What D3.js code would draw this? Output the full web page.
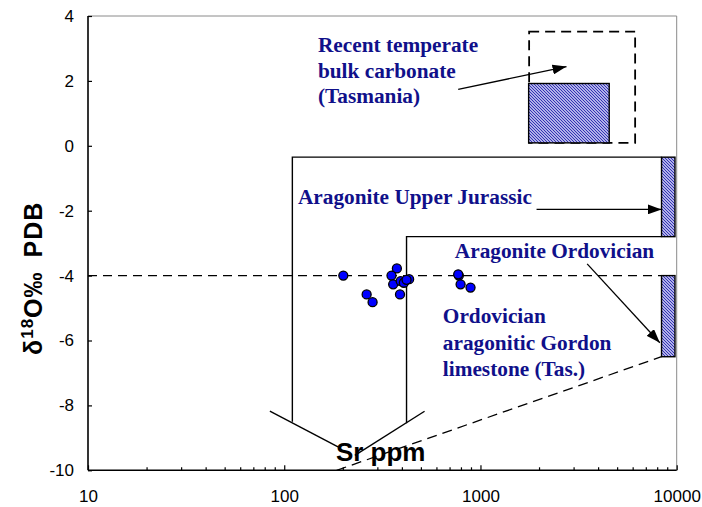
<!DOCTYPE html>
<html><head><meta charset="utf-8">
<script src="https://cdn.jsdelivr.net/npm/d3@7"></script>
<style>
html,body{margin:0;padding:0;background:#fff;}
svg{display:block;}
</style></head>
<body>
<svg id="chart" width="702" height="507"></svg>
<script>
// ---------- data ----------
const xTickValues = [10, 100, 1000, 10000];
const xTickLabels = ["10", "100", "1000", "10000"];
const yTickValues = [-10, -8, -6, -4, -2, 0, 2, 4];
const yTickLabels = ["-10", "-8", "-6", "-4", "-2", "0", "2", "4"];

// Ordovician Gordon limestone samples (Sr ppm, d18O)
const srPpm = [200, 375, 352, 359, 392, 407, 433, 420, 389, 263, 282, 776, 770, 792, 890];
const d18O  = [-4.0, -3.78, -4.0, -4.27, -4.17, -4.22, -4.11, -4.13, -4.58, -4.58, -4.82, -4.0, -3.96, -4.27, -4.37];

// field boxes: [srMin, srMax, d18OMin, d18OMax]
const tasmaniaBar   = [1760, 4530, 0.09, 1.92];
const tasmaniaField = [1770, 6140, 0.09, 3.52];
const jurassicBar   = [8370, 9800, -2.8, -0.35];
const ordovicianBar = [8370, 9800, -6.5, -4.0];

// outline polylines (Sr ppm, d18O)
const outerOutline = [[110, -8.5], [110, -0.35], [8370, -0.35]];
const innerOutline = [[420, -8.55], [420, -2.8], [8370, -2.8]];
const funnelLeft   = [[84.5, -8.18], [188, -9.28]];
const funnelRight  = [[519, -8.18], [229, -9.54]];
const trendDashed  = [[185, -10], [8370, -6.5]];
const levelDashed  = [[10, -4], [8370, -4]];

// arrows: [from, to]
const arrowTasmania   = [[770, 1.74], [2745, 2.44]];
const arrowJurassic   = [[1931, -1.96], [8370, -1.96]];
const arrowOrdovician = [[3497, -3.64], [8204, -6.07]];

// labels: text lines with anchor (Sr ppm, d18O of first baseline)
const labelTasmania   = {lines: ["Recent temperate", "bulk carbonate", "(Tasmania)"], at: [148.5, 2.89]};
const labelJurassic   = {lines: ["Aragonite Upper Jurassic"], at: [117.5, -1.80]};
const labelOrdovician = {lines: ["Aragonite Ordovician"], at: [740, -3.47]};
const labelGordon     = {lines: ["Ordovician", "aragonitic Gordon", "limestone (Tas.)"], at: [643, -5.47]};
const labelSr = {text: "Sr ppm", at: [183.4, -9.71]};

// ---------- chart ----------
const svg = d3.select("#chart");
const M = {left: 88, right: 676.7, top: 16, bottom: 470.3};
const x = d3.scaleLog().domain([10, 10000]).range([M.left, M.right]);
const y = d3.scaleLinear().domain([-10, 4]).range([M.bottom, M.top]);
const navy = "#10108a";

const defs = svg.append("defs");
const pat = defs.append("pattern").attr("id", "hatch")
  .attr("patternUnits", "userSpaceOnUse").attr("width", 3).attr("height", 3);
pat.append("rect").attr("width", 3).attr("height", 3).attr("fill", "#e8e8ff");
pat.append("path").attr("d", "M-1,-1 L4,4 M-1,2 L1,4 M2,-1 L4,1")
  .attr("stroke", "#2a2ab0").attr("stroke-width", 1.1);
defs.append("marker").attr("id", "arrow")
  .attr("viewBox", "0 0 14 10").attr("refX", 14).attr("refY", 5)
  .attr("markerWidth", 14).attr("markerHeight", 10)
  .attr("markerUnits", "userSpaceOnUse").attr("orient", "auto")
  .append("path").attr("d", "M0,0 L14,5 L0,10 Z").attr("fill", "#000");

// plot frame: top & right grey
svg.append("line").attr("x1", M.left).attr("x2", M.right).attr("y1", M.top).attr("y2", M.top)
  .attr("stroke", "#8a8a8a").attr("stroke-width", 1);
svg.append("line").attr("x1", M.right).attr("x2", M.right).attr("y1", M.top).attr("y2", M.bottom)
  .attr("stroke", "#8a8a8a").attr("stroke-width", 1);

const line = d3.line().x(d => x(d[0])).y(d => y(d[1]));

// dashed -4 level
svg.append("path").attr("d", line(levelDashed)).attr("fill", "none")
  .attr("stroke", "#000").attr("stroke-width", 1.3).attr("stroke-dasharray", "9,6");
// trend dashed
svg.append("path").attr("d", line(trendDashed)).attr("fill", "none")
  .attr("stroke", "#000").attr("stroke-width", 1.3).attr("stroke-dasharray", "10,6");

// outlines
[outerOutline, innerOutline, funnelLeft, funnelRight].forEach(p => {
  svg.append("path").attr("d", line(p)).attr("fill", "none")
    .attr("stroke", "#000").attr("stroke-width", 1.4);
});

// Tasmania dashed field
svg.append("rect")
  .attr("x", x(tasmaniaField[0])).attr("y", y(tasmaniaField[3]))
  .attr("width", x(tasmaniaField[1]) - x(tasmaniaField[0]))
  .attr("height", y(tasmaniaField[2]) - y(tasmaniaField[3]))
  .attr("fill", "none").attr("stroke", "#000").attr("stroke-width", 1.8)
  .attr("stroke-dasharray", "10,6");

// hatched bars
[tasmaniaBar, jurassicBar, ordovicianBar].forEach(b => {
  svg.append("rect")
    .attr("x", x(b[0])).attr("y", y(b[3]))
    .attr("width", x(b[1]) - x(b[0]))
    .attr("height", y(b[2]) - y(b[3]))
    .attr("fill", "url(#hatch)").attr("stroke", "#000").attr("stroke-width", 1.4);
});

// arrows
[arrowTasmania, arrowJurassic, arrowOrdovician].forEach(a => {
  svg.append("path").attr("d", line(a)).attr("fill", "none")
    .attr("stroke", "#000").attr("stroke-width", 1.3).attr("marker-end", "url(#arrow)");
});

// axes
const xMinor = [];
for (let d = 10; d < 10000; d *= 10) for (let k = 2; k <= 9; k++) xMinor.push(d * k);
const xAxis = d3.axisBottom(x).tickValues(xTickValues)
  .tickFormat((d, i) => xTickLabels[i]).tickSize(-5).tickPadding(20);
const gx = svg.append("g").attr("transform", `translate(0,${M.bottom})`).call(xAxis);
gx.selectAll(".tick line").attr("stroke", "#000").attr("stroke-width", 1.2);
gx.selectAll("text").attr("font-family", "Arial, 'Liberation Sans', sans-serif")
  .attr("font-size", 17).attr("fill", "#000");
gx.select(".domain").remove();
gx.selectAll(".minor").data(xMinor).enter().append("line").attr("class", "minor")
  .attr("x1", d => x(d)).attr("x2", d => x(d)).attr("y1", 0).attr("y2", -3)
  .attr("stroke", "#000").attr("stroke-width", 1.2);

const yAxis = d3.axisLeft(y).tickValues(yTickValues)
  .tickFormat((d, i) => yTickLabels[i]).tickSize(-4).tickPadding(14);
const gy = svg.append("g").attr("transform", `translate(${M.left},0)`).call(yAxis);
gy.selectAll(".tick line").attr("stroke", "#000").attr("stroke-width", 1.2);
gy.selectAll("text").attr("font-family", "Arial, 'Liberation Sans', sans-serif")
  .attr("font-size", 17).attr("fill", "#000");
gy.select(".domain").remove();

svg.append("line").attr("x1", M.left).attr("x2", M.right).attr("y1", M.bottom).attr("y2", M.bottom)
  .attr("stroke", "#000").attr("stroke-width", 1.6);
svg.append("line").attr("x1", M.left).attr("x2", M.left).attr("y1", M.top).attr("y2", M.bottom)
  .attr("stroke", "#000").attr("stroke-width", 1.6);

// points
svg.append("g").selectAll("circle").data(srPpm).enter().append("circle")
  .attr("cx", d => x(d)).attr("cy", (d, i) => y(d18O[i])).attr("r", 4.5)
  .attr("fill", "#0000ff").attr("stroke", "#000").attr("stroke-width", 1.3);

// labels
function addLabel(lbl, lh) {
  const t = svg.append("text").attr("x", x(lbl.at[0])).attr("y", y(lbl.at[1]))
    .attr("font-family", "'Liberation Serif', 'Times New Roman', serif")
    .attr("font-weight", "bold").attr("font-size", 21.3).attr("fill", navy);
  lbl.lines.forEach((s, i) => {
    t.append("tspan").attr("x", x(lbl.at[0])).attr("dy", i === 0 ? 0 : lh).text(s);
  });
}
addLabel(labelTasmania, 25.5);
addLabel(labelJurassic, 25);
addLabel(labelOrdovician, 25);
addLabel(labelGordon, 26.4);

svg.append("text").attr("x", x(labelSr.at[0])).attr("y", y(labelSr.at[1]))
  .attr("font-family", "Arial, 'Liberation Sans', sans-serif").attr("font-weight", "bold")
  .attr("font-size", 26).attr("fill", "#000").text(labelSr.text);

// y title
const yt = svg.append("text").attr("transform", "translate(41.5,355) rotate(-90)")
  .attr("text-anchor", "start")
  .style("letter-spacing", "1px")
  .attr("font-family", "Arial, 'Liberation Sans', sans-serif").attr("font-weight", "bold")
  .attr("font-size", 25).attr("fill", "#000");
yt.append("tspan").text("δ");
yt.append("tspan").attr("font-size", 17).attr("dy", -9).text("18");
yt.append("tspan").attr("dy", 9).text("O‰");
yt.append("tspan").attr("dx", 14).text("PDB");
</script>
</body></html>
